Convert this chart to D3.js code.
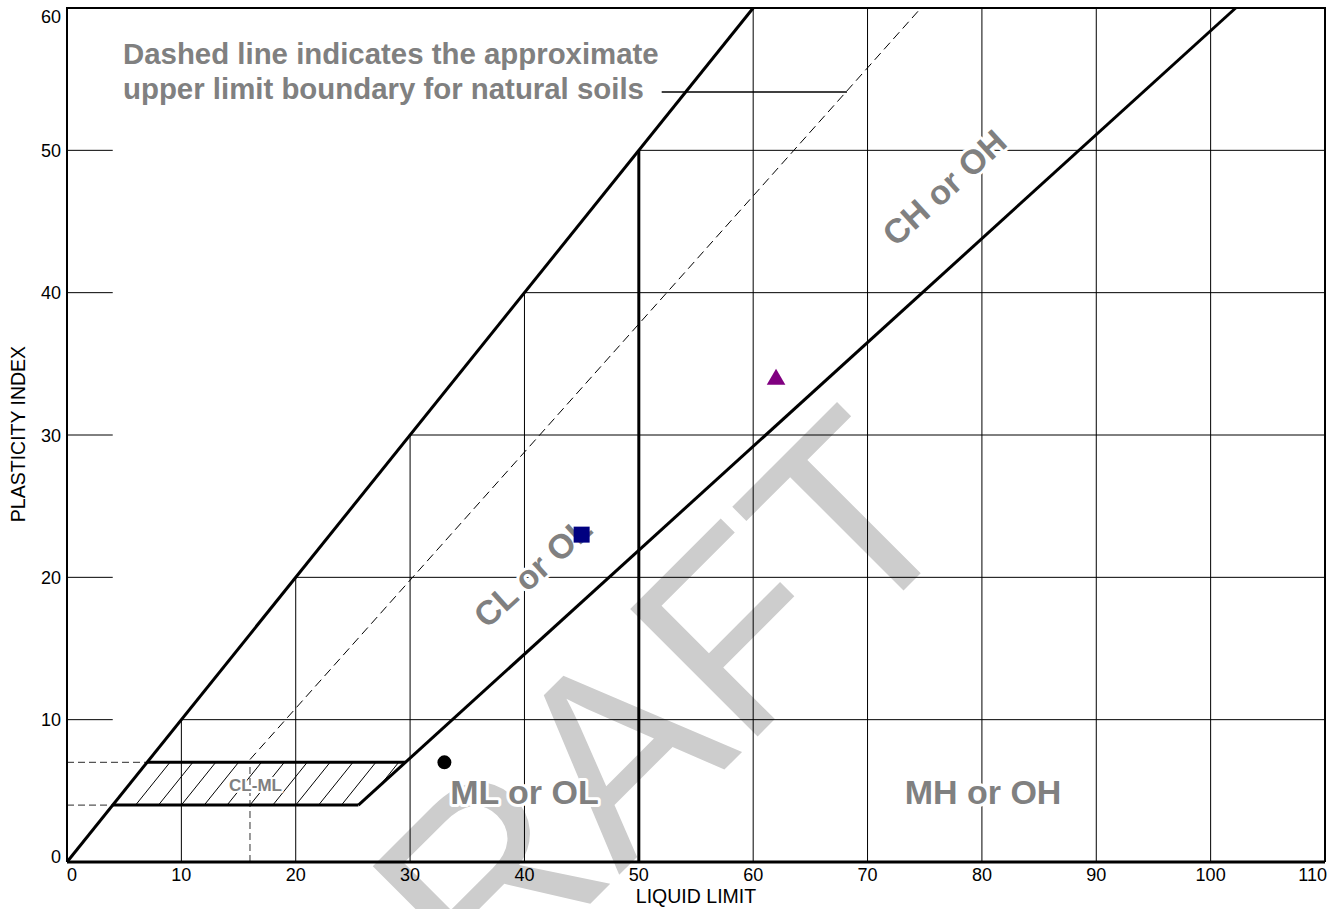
<!DOCTYPE html>
<html><head><meta charset="utf-8">
<script src="https://cdn.jsdelivr.net/npm/d3@7"></script>
<style>
html,body{margin:0;padding:0;background:#fff;}
text{font-family:"Liberation Sans",Arial,sans-serif;}
</style>
</head><body>
<svg id="chart" width="1341" height="909"></svg>
<script>
// ---------- data ----------
const llTicks = [0,10,20,30,40,50,60,70,80,90,100,110];
const piTicks = [0,10,20,30,40,50,60];
const gridVerticalLow = [10,20,30,40];          // clipped by PI = LL line
const gridVerticalFull = [60,70,80,90,100];
const gridHorizontal = [10,20,30,40,50];
const boundaryLine = [[0,0],[60,60]];
const aLine = [[25.48,4],[102.19,60]];
const llFiftyLine = [[50,0],[50,50]];
const clmlTop = [[7,7],[29.59,7]];
const clmlBottom = [[4,4],[25.48,4]];
const clmlZone = [[4,4],[25.48,4],[29.59,7],[7,7]];
const hatchStarts = [6,8,10,12,14,16,18,20,22,24,26];
const uLineDashed = [[16,7.2],[74.67,60]];
const refDashH = [[[0,7],[7,7]],[[0,4],[4,4]]];
const refDashV = [[16,0],[16,7]];
const pointerLine = [[52,54.1],[68.2,54.1]];
const samples = [
  {ll:33, pi:7,    shape:"circle",   color:"#000000"},
  {ll:45, pi:23,   shape:"square",   color:"#000080"},
  {ll:62, pi:33.9, shape:"triangle", color:"#800080"}
];
const zoneLabels = [
  {text:"ML or OL", ll:40.0, pi:4.1},
  {text:"MH or OH", ll:80.1, pi:4.1}
];
const slopeLabels = [
  {text:"CL or OL", ll:40.7, pi:20.4},
  {text:"CH or OH", ll:76.7, pi:47.4}
];
const noteLines = ["Dashed line indicates the approximate","upper limit boundary for natural soils"];

// ---------- chart ----------
const svg = d3.select("#chart");
const x = d3.scaleLinear().domain([0,110]).range([67,1325]);
const y = d3.scaleLinear().domain([0,60]).range([862,8]);
const line = d3.line().x(d=>x(d[0])).y(d=>y(d[1]));

// watermark
svg.append("text").attr("transform","translate(660,834) rotate(-45)")
  .attr("text-anchor","middle").attr("font-size",262).attr("fill","#cdcdcd").text("DRAFT");

const g = svg.append("g");
// grid
gridVerticalLow.forEach(v=>g.append("path").attr("d",line([[v,0],[v,v]])).attr("stroke","#000").attr("stroke-width",1).attr("fill","none"));
gridVerticalFull.forEach(v=>g.append("path").attr("d",line([[v,0],[v,60]])).attr("stroke","#000").attr("stroke-width",1).attr("fill","none"));
gridHorizontal.forEach(v=>{
  g.append("path").attr("d",line([[v,v],[110,v]])).attr("stroke","#000").attr("stroke-width",1).attr("fill","none");
  g.append("path").attr("d",line([[0,v],[4,v]])).attr("stroke","#000").attr("stroke-width",1).attr("fill","none");
});

// hatch
const clip = svg.append("defs").append("clipPath").attr("id","clml");
clip.append("path").attr("d",line(clmlZone)+"Z");
const hg = g.append("g").attr("clip-path","url(#clml)");
hatchStarts.forEach(b=>hg.append("path").attr("d",line([[b,4],[b+3,7]])).attr("stroke","#000").attr("stroke-width",1).attr("fill","none"));

// dashed references
refDashH.forEach(s=>g.append("path").attr("d",line(s)).attr("stroke","#555").attr("stroke-width",1.2).attr("stroke-dasharray","7,4").attr("fill","none"));
g.append("path").attr("d",line(refDashV)).attr("stroke","#555").attr("stroke-width",1.2).attr("stroke-dasharray","7,4").attr("fill","none");
g.append("path").attr("d",line(uLineDashed)).attr("stroke","#000").attr("stroke-width",1).attr("stroke-dasharray","9,5").attr("fill","none");
g.append("path").attr("d",line(pointerLine)).attr("stroke","#000").attr("stroke-width",1.5).attr("fill","none");

// thick boundaries
[boundaryLine,aLine,llFiftyLine,clmlTop,clmlBottom].forEach(s=>
  g.append("path").attr("d",line(s)).attr("stroke","#000").attr("stroke-width",3).attr("fill","none"));

// frame
g.append("path").attr("d",line([[0,0],[0,60],[110,60],[110,0]])).attr("stroke","#000").attr("stroke-width",2).attr("fill","none");
g.append("path").attr("d",line([[0,0],[110,0]])).attr("stroke","#000").attr("stroke-width",3).attr("fill","none");

// tick labels
llTicks.forEach((t,i)=>{
  const anchor = i===0?"start":(i===llTicks.length-1?"end":"middle");
  const xx = i===0?x(t):(i===llTicks.length-1?x(t)+2:x(t));
  svg.append("text").attr("x",xx).attr("y",881).attr("text-anchor",anchor)
    .attr("font-size",18).attr("fill","#000").text(t);
});
piTicks.forEach((t,i)=>{
  let yy = y(t)+6.5;
  if(i===0) yy = y(t)+1;
  if(i===piTicks.length-1) yy = y(t)+15;
  svg.append("text").attr("x",61).attr("y",yy).attr("text-anchor","end")
    .attr("font-size",18).attr("fill","#000").text(t);
});
svg.append("text").attr("x",696).attr("y",903).attr("text-anchor","middle").attr("font-size",19.5).text("LIQUID LIMIT");
svg.append("text").attr("transform","translate(25,434) rotate(-90)").attr("text-anchor","middle").attr("font-size",19.5).text("PLASTICITY INDEX");

// labels
const halo = sel=>sel.attr("stroke","#fff").attr("stroke-width",6).attr("paint-order","stroke").attr("stroke-linejoin","round");
zoneLabels.forEach(d=>{
  svg.append("text").attr("x",x(d.ll)).attr("y",y(d.pi)).attr("text-anchor","middle")
    .attr("font-size",34).attr("font-weight","bold").attr("fill","#808080").call(halo).text(d.text);
});
const ang = -Math.atan(0.73*(y(0)-y(1))/(x(1)-x(0)))*180/Math.PI;
slopeLabels.forEach(d=>{
  svg.append("text").attr("transform",`translate(${x(d.ll)},${y(d.pi)}) rotate(${ang})`)
    .attr("text-anchor","middle").attr("dy","0.36em")
    .attr("font-size",34).attr("font-weight","bold").attr("fill","#808080").call(halo).text(d.text);
});
svg.append("text").attr("x",255.5).attr("y",791).attr("text-anchor","middle")
  .attr("font-size",17).attr("font-weight","bold").attr("fill","#808080").call(halo).attr("stroke-width",4).text("CL-ML");
noteLines.forEach((t,i)=>{
  svg.append("text").attr("x",123).attr("y",64+i*35).attr("font-size",29.4).attr("font-weight","bold")
    .attr("fill","#808080").text(t);
});

// samples
const shapes = {circle:d3.symbolCircle, square:d3.symbolSquare, triangle:d3.symbolTriangle};
const sizes = {circle:154, square:256, triangle:150};
samples.forEach(d=>{
  svg.append("path").attr("transform",`translate(${x(d.ll)},${y(d.pi)})`)
    .attr("d",d3.symbol().type(shapes[d.shape]).size(sizes[d.shape])()).attr("fill",d.color);
});
</script>
</body></html>
